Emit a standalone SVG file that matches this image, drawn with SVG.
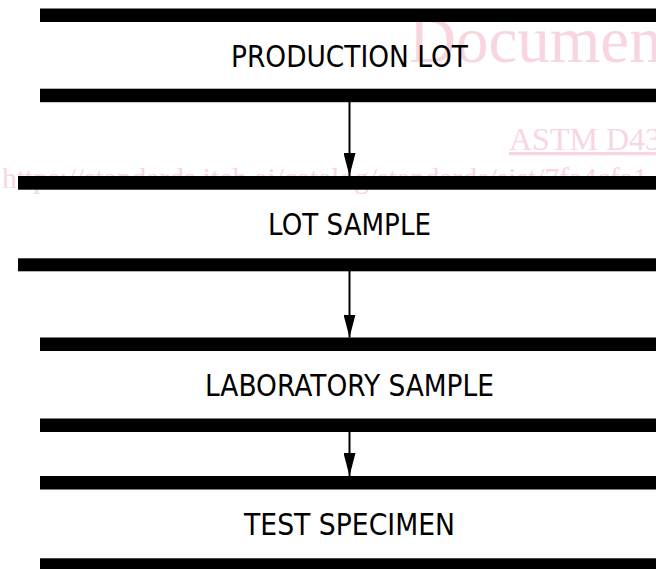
<svg xmlns="http://www.w3.org/2000/svg" width="656" height="569" viewBox="0 0 656 569">
  <style>
    .bar { fill: #000; }
    .label { font-family: "DejaVu Sans", "Liberation Sans", sans-serif; font-size: 30px; fill: #000; text-anchor: middle; }
    .wm { font-family: "Liberation Serif", "DejaVu Serif", serif; fill: #f7d6df; }
    .conn { stroke: #000; stroke-width: 2; fill: none; }
  </style>
  <defs>
    <marker id="arrow" viewBox="0 0 23 12" refX="23" refY="6" markerWidth="23" markerHeight="12" markerUnits="userSpaceOnUse" orient="auto">
      <path d="M0,0 L23,6 L0,12 Z" fill="#000"/>
    </marker>
  </defs>
  <rect width="656" height="569" fill="#fff"/>

  <g id="watermark">
    <text class="wm" x="409" y="62" font-size="65">Documen</text>
    <text class="wm" x="509" y="150" font-size="32" text-decoration="underline">ASTM D43</text>
    <text class="wm" x="2" y="188" font-size="29.5">https://standards.iteh.ai/catalog/standards/sist/7fa4cfa1</text>
  </g>

  <g id="connectors">
    <line class="conn" x1="349.5" y1="102" x2="349.5" y2="176" marker-end="url(#arrow)"/>
    <line class="conn" x1="349.5" y1="271" x2="349.5" y2="337.5" marker-end="url(#arrow)"/>
    <line class="conn" x1="349.5" y1="432" x2="349.5" y2="476" marker-end="url(#arrow)"/>
  </g>

  <g id="production-lot">
    <rect class="bar" x="40" y="8.5" width="616" height="13.5"/>
    <rect class="bar" x="40" y="88.7" width="616" height="13.5"/>
    <text class="label" x="349.5" y="67" textLength="237" lengthAdjust="spacingAndGlyphs">PRODUCTION LOT</text>
  </g>

  <g id="lot-sample">
    <rect class="bar" x="18" y="176" width="638" height="13.7"/>
    <rect class="bar" x="18" y="258.3" width="638" height="13"/>
    <text class="label" x="349.5" y="235" textLength="163" lengthAdjust="spacingAndGlyphs">LOT SAMPLE</text>
  </g>

  <g id="laboratory-sample">
    <rect class="bar" x="40" y="337.5" width="616" height="13.5"/>
    <rect class="bar" x="40" y="418.5" width="616" height="13.5"/>
    <text class="label" x="349.5" y="396" textLength="289" lengthAdjust="spacingAndGlyphs">LABORATORY SAMPLE</text>
  </g>

  <g id="test-specimen">
    <rect class="bar" x="40" y="476" width="616" height="13.5"/>
    <rect class="bar" x="40" y="558.3" width="616" height="13"/>
    <text class="label" x="349.5" y="535" textLength="211" lengthAdjust="spacingAndGlyphs">TEST SPECIMEN</text>
  </g>
</svg>
